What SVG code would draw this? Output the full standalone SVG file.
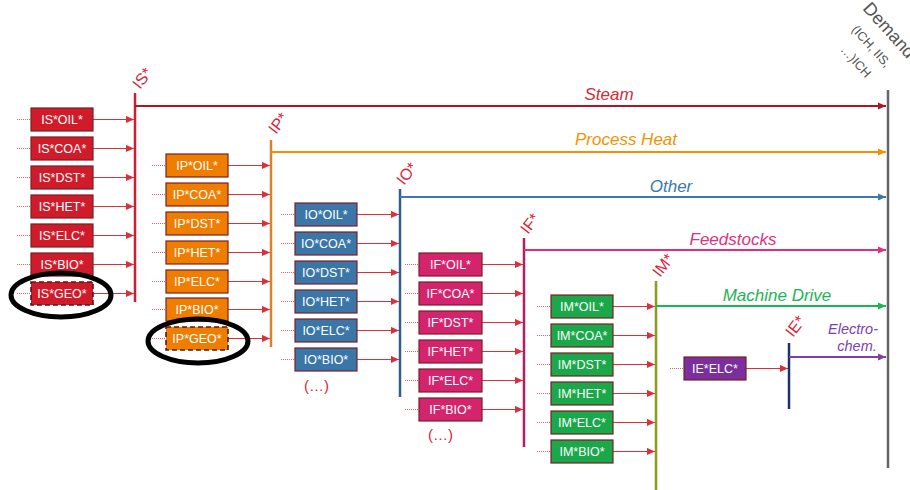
<svg xmlns="http://www.w3.org/2000/svg" width="910" height="490" viewBox="0 0 910 490">
<style>
.box{stroke:#7a1f22;stroke-width:1.2}
.geo{stroke:#5a1518;stroke-width:1.6;stroke-dasharray:5 3}
.bt{font-family:"Liberation Sans",Arial,sans-serif;font-size:12.5px;fill:#fff;text-anchor:middle}
.in{stroke:#d9313c;stroke-width:1.2;fill:none}
.dot{stroke:#e0606a;stroke-width:1;stroke-dasharray:1 1;fill:none}
.bus{stroke-width:2.5;fill:none}
.out{stroke-width:2;fill:none}
.lbl{font-family:"Liberation Sans",Arial,sans-serif;font-style:italic;font-size:17px;text-anchor:middle}
.rot{font-family:"Liberation Sans",Arial,sans-serif;font-size:16px;fill:#d7263d}
.ell{fill:none;stroke:#000;stroke-width:5}
.more{font-family:"Liberation Sans",Arial,sans-serif;font-size:15px;fill:#d7263d}
.dem{font-family:"Liberation Sans",Arial,sans-serif;fill:#555}
</style>
<defs>
<marker id="ar" viewBox="0 0 10 10" refX="10" refY="5" markerWidth="9" markerHeight="8" markerUnits="userSpaceOnUse" orient="auto"><path d="M0,0.5 L10,5 L0,9.5z" fill="#d9313c"/></marker>
<marker id="aS" viewBox="0 0 10 10" refX="10" refY="5" markerWidth="9" markerHeight="8" markerUnits="userSpaceOnUse" orient="auto"><path d="M0,0.5 L10,5 L0,9.5z" fill="#a8162a"/></marker>
<marker id="aP" viewBox="0 0 10 10" refX="10" refY="5" markerWidth="9" markerHeight="8" markerUnits="userSpaceOnUse" orient="auto"><path d="M0,0.5 L10,5 L0,9.5z" fill="#f39200"/></marker>
<marker id="aO" viewBox="0 0 10 10" refX="10" refY="5" markerWidth="9" markerHeight="8" markerUnits="userSpaceOnUse" orient="auto"><path d="M0,0.5 L10,5 L0,9.5z" fill="#3a78b0"/></marker>
<marker id="aF" viewBox="0 0 10 10" refX="10" refY="5" markerWidth="9" markerHeight="8" markerUnits="userSpaceOnUse" orient="auto"><path d="M0,0.5 L10,5 L0,9.5z" fill="#e0307d"/></marker>
<marker id="aM" viewBox="0 0 10 10" refX="10" refY="5" markerWidth="9" markerHeight="8" markerUnits="userSpaceOnUse" orient="auto"><path d="M0,0.5 L10,5 L0,9.5z" fill="#1db454"/></marker>
<marker id="aE" viewBox="0 0 10 10" refX="10" refY="5" markerWidth="9" markerHeight="8" markerUnits="userSpaceOnUse" orient="auto"><path d="M0,0.5 L10,5 L0,9.5z" fill="#7d3fb0"/></marker>
</defs>
<rect width="910" height="490" fill="#fff"/>

<g id="connectors">
<path class="dot" d="M17,119.5H31M17,148.5H31M17,177.5H31M17,206.5H31M17,235.5H31M17,264.5H31M17,293.5H31"/>
<path class="dot" d="M152,165.5H166M152,194.5H166M152,223.5H166M152,252.5H166M152,281.5H166M152,309.5H166M152,338.5H166"/>
<path class="dot" d="M281,214.5H295M281,243.5H295M281,272.5H295M281,301.5H295M281,330.5H295M281,359.5H295"/>
<path class="dot" d="M405,264.5H419M405,293.5H419M405,322.5H419M405,351.5H419M405,380.5H419M405,409.5H419"/>
<path class="dot" d="M537,306.5H551M537,335.5H551M537,364.5H551M537,393.5H551M537,422.5H551M537,451.5H551"/>
<path class="dot" d="M670,368.5H684"/>
<g class="in" marker-end="url(#ar)">
<path d="M93,119.5H134"/><path d="M93,148.5H134"/><path d="M93,177.5H134"/><path d="M93,206.5H134"/><path d="M93,235.5H134"/><path d="M93,264.5H134"/><path d="M93,293.5H134"/>
<path d="M228,165.5H270"/><path d="M228,194.5H270"/><path d="M228,223.5H270"/><path d="M228,252.5H270"/><path d="M228,281.5H270"/><path d="M228,309.5H270"/><path d="M228,338.5H270"/>
<path d="M357,214.5H399"/><path d="M357,243.5H399"/><path d="M357,272.5H399"/><path d="M357,301.5H399"/><path d="M357,330.5H399"/><path d="M357,359.5H399"/>
<path d="M482,264.5H523"/><path d="M482,293.5H523"/><path d="M482,322.5H523"/><path d="M482,351.5H523"/><path d="M482,380.5H523"/><path d="M482,409.5H523"/>
<path d="M613,306.5H655"/><path d="M613,335.5H655"/><path d="M613,364.5H655"/><path d="M613,393.5H655"/><path d="M613,422.5H655"/><path d="M613,451.5H655"/>
<path d="M746,368.5H788"/>
</g>
<path class="bus" stroke="#cc1f33" d="M135,93V302"/>
<path class="bus" stroke="#d9822b" d="M271,140V347"/>
<path class="bus" stroke="#2f5f8a" d="M400,189V397"/>
<path class="bus" stroke="#b51c62" d="M524,238V447"/>
<path class="bus" stroke="#8a9a1a" d="M656,281V490"/>
<path class="bus" stroke="#1f2f6a" d="M789,343V409"/>
<path class="bus" stroke="#666" stroke-width="3" d="M888,90V468"/>
<path class="out" stroke="#a8162a" marker-end="url(#aS)" d="M135,106H886"/>
<path class="out" stroke="#f39200" marker-end="url(#aP)" d="M271,152H886"/>
<path class="out" stroke="#3a78b0" marker-end="url(#aO)" d="M400,197H886"/>
<path class="out" stroke="#e0307d" marker-end="url(#aF)" d="M524,250H886"/>
<path class="out" stroke="#1db454" marker-end="url(#aM)" d="M656,306H886"/>
<path class="out" stroke="#7d3fb0" marker-end="url(#aE)" d="M789,357H886"/>
</g>

<g id="output-labels">
<text class="lbl" x="609" y="100" fill="#d42a3c">Steam</text>
<text class="lbl" x="626" y="145" fill="#f39200">Process Heat</text>
<text class="lbl" x="671" y="192" fill="#3a78b0">Other</text>
<text class="lbl" x="733" y="245" fill="#e0307d">Feedstocks</text>
<text class="lbl" x="777" y="301" fill="#1db454">Machine Drive</text>
<text class="lbl" x="853" y="334" fill="#7d3fb0" style="font-size:14.5px">Electro-</text>
<text class="lbl" x="857" y="351" fill="#7d3fb0" style="font-size:14.5px">chem.</text>
</g>

<g id="bus-labels">
<text class="rot" transform="translate(140,90) rotate(-52)">IS*</text>
<text class="rot" transform="translate(276,135) rotate(-52)">IP*</text>
<text class="rot" transform="translate(404,186) rotate(-52)">IO*</text>
<text class="rot" transform="translate(528,235) rotate(-52)">IF*</text>
<text class="rot" transform="translate(660,278) rotate(-52)">IM*</text>
<text class="rot" transform="translate(793,338) rotate(-52)">IE*</text>
</g>

<g id="demand">
<text class="dem" transform="translate(862,9) rotate(48)" font-size="18">Demand</text>
<text class="dem" transform="translate(851,30) rotate(48)" font-size="12.5">(ICH, IIS,</text>
<text class="dem" transform="translate(840,50) rotate(48)" font-size="12.5">…)ICH</text>
</g>

<g id="IS">
<g id="IS-OIL"><rect class="box" x="31" y="108" width="62" height="23" fill="#d01c2a"/><text class="bt" x="62" y="124">IS*OIL*</text></g>
<g id="IS-COA"><rect class="box" x="31" y="137" width="62" height="23" fill="#d01c2a"/><text class="bt" x="62" y="153">IS*COA*</text></g>
<g id="IS-DST"><rect class="box" x="31" y="166" width="62" height="23" fill="#d01c2a"/><text class="bt" x="62" y="182">IS*DST*</text></g>
<g id="IS-HET"><rect class="box" x="31" y="195" width="62" height="23" fill="#d01c2a"/><text class="bt" x="62" y="211">IS*HET*</text></g>
<g id="IS-ELC"><rect class="box" x="31" y="224" width="62" height="23" fill="#d01c2a"/><text class="bt" x="62" y="240">IS*ELC*</text></g>
<g id="IS-BIO"><rect class="box" x="31" y="253" width="62" height="23" fill="#d01c2a"/><text class="bt" x="62" y="269">IS*BIO*</text></g>
<g id="IS-GEO"><rect class="geo" x="31" y="282" width="62" height="23" fill="#d01c2a"/><text class="bt" x="62" y="298">IS*GEO*</text></g>
</g>

<g id="IP">
<g id="IP-OIL"><rect class="box" x="166" y="154" width="62" height="23" fill="#ef7d00"/><text class="bt" x="197" y="170">IP*OIL*</text></g>
<g id="IP-COA"><rect class="box" x="166" y="183" width="62" height="23" fill="#ef7d00"/><text class="bt" x="197" y="199">IP*COA*</text></g>
<g id="IP-DST"><rect class="box" x="166" y="212" width="62" height="23" fill="#ef7d00"/><text class="bt" x="197" y="228">IP*DST*</text></g>
<g id="IP-HET"><rect class="box" x="166" y="241" width="62" height="23" fill="#ef7d00"/><text class="bt" x="197" y="257">IP*HET*</text></g>
<g id="IP-ELC"><rect class="box" x="166" y="270" width="62" height="23" fill="#ef7d00"/><text class="bt" x="197" y="286">IP*ELC*</text></g>
<g id="IP-BIO"><rect class="box" x="166" y="298" width="62" height="23" fill="#ef7d00"/><text class="bt" x="197" y="314">IP*BIO*</text></g>
<g id="IP-GEO"><rect class="geo" x="166" y="327" width="62" height="23" fill="#ef7d00"/><text class="bt" x="197" y="343">IP*GEO*</text></g>
</g>

<g id="IO">
<g id="IO-OIL"><rect class="box" x="295" y="203" width="62" height="23" fill="#3a76a8"/><text class="bt" x="326" y="219">IO*OIL*</text></g>
<g id="IO-COA"><rect class="box" x="295" y="232" width="62" height="23" fill="#3a76a8"/><text class="bt" x="326" y="248">IO*COA*</text></g>
<g id="IO-DST"><rect class="box" x="295" y="261" width="62" height="23" fill="#3a76a8"/><text class="bt" x="326" y="277">IO*DST*</text></g>
<g id="IO-HET"><rect class="box" x="295" y="290" width="62" height="23" fill="#3a76a8"/><text class="bt" x="326" y="306">IO*HET*</text></g>
<g id="IO-ELC"><rect class="box" x="295" y="319" width="62" height="23" fill="#3a76a8"/><text class="bt" x="326" y="335">IO*ELC*</text></g>
<g id="IO-BIO"><rect class="box" x="295" y="348" width="62" height="23" fill="#3a76a8"/><text class="bt" x="326" y="364">IO*BIO*</text></g>
<text class="more" x="304" y="391">(…)</text>
</g>

<g id="IF">
<g id="IF-OIL"><rect class="box" x="419" y="253" width="63" height="23" fill="#d4246e"/><text class="bt" x="450.5" y="269">IF*OIL*</text></g>
<g id="IF-COA"><rect class="box" x="419" y="282" width="63" height="23" fill="#d4246e"/><text class="bt" x="450.5" y="298">IF*COA*</text></g>
<g id="IF-DST"><rect class="box" x="419" y="311" width="63" height="23" fill="#d4246e"/><text class="bt" x="450.5" y="327">IF*DST*</text></g>
<g id="IF-HET"><rect class="box" x="419" y="340" width="63" height="23" fill="#d4246e"/><text class="bt" x="450.5" y="356">IF*HET*</text></g>
<g id="IF-ELC"><rect class="box" x="419" y="369" width="63" height="23" fill="#d4246e"/><text class="bt" x="450.5" y="385">IF*ELC*</text></g>
<g id="IF-BIO"><rect class="box" x="419" y="398" width="63" height="23" fill="#d4246e"/><text class="bt" x="450.5" y="414">IF*BIO*</text></g>
<text class="more" x="428" y="440">(…)</text>
</g>

<g id="IM">
<g id="IM-OIL"><rect class="box" x="551" y="295" width="62" height="23" fill="#1aa84a"/><text class="bt" x="582" y="311">IM*OIL*</text></g>
<g id="IM-COA"><rect class="box" x="551" y="324" width="62" height="23" fill="#1aa84a"/><text class="bt" x="582" y="340">IM*COA*</text></g>
<g id="IM-DST"><rect class="box" x="551" y="353" width="62" height="23" fill="#1aa84a"/><text class="bt" x="582" y="369">IM*DST*</text></g>
<g id="IM-HET"><rect class="box" x="551" y="382" width="62" height="23" fill="#1aa84a"/><text class="bt" x="582" y="398">IM*HET*</text></g>
<g id="IM-ELC"><rect class="box" x="551" y="411" width="62" height="23" fill="#1aa84a"/><text class="bt" x="582" y="427">IM*ELC*</text></g>
<g id="IM-BIO"><rect class="box" x="551" y="440" width="62" height="23" fill="#1aa84a"/><text class="bt" x="582" y="456">IM*BIO*</text></g>
</g>

<g id="IE">
<g id="IE-ELC"><rect class="box" x="684" y="357" width="62" height="23" fill="#7b2f9e"/><text class="bt" x="715" y="373">IE*ELC*</text></g>
</g>

<g id="highlights">
<ellipse class="ell" cx="61" cy="295" rx="50" ry="22"/>
<ellipse class="ell" cx="198" cy="341" rx="50" ry="22"/>
</g>
</svg>
